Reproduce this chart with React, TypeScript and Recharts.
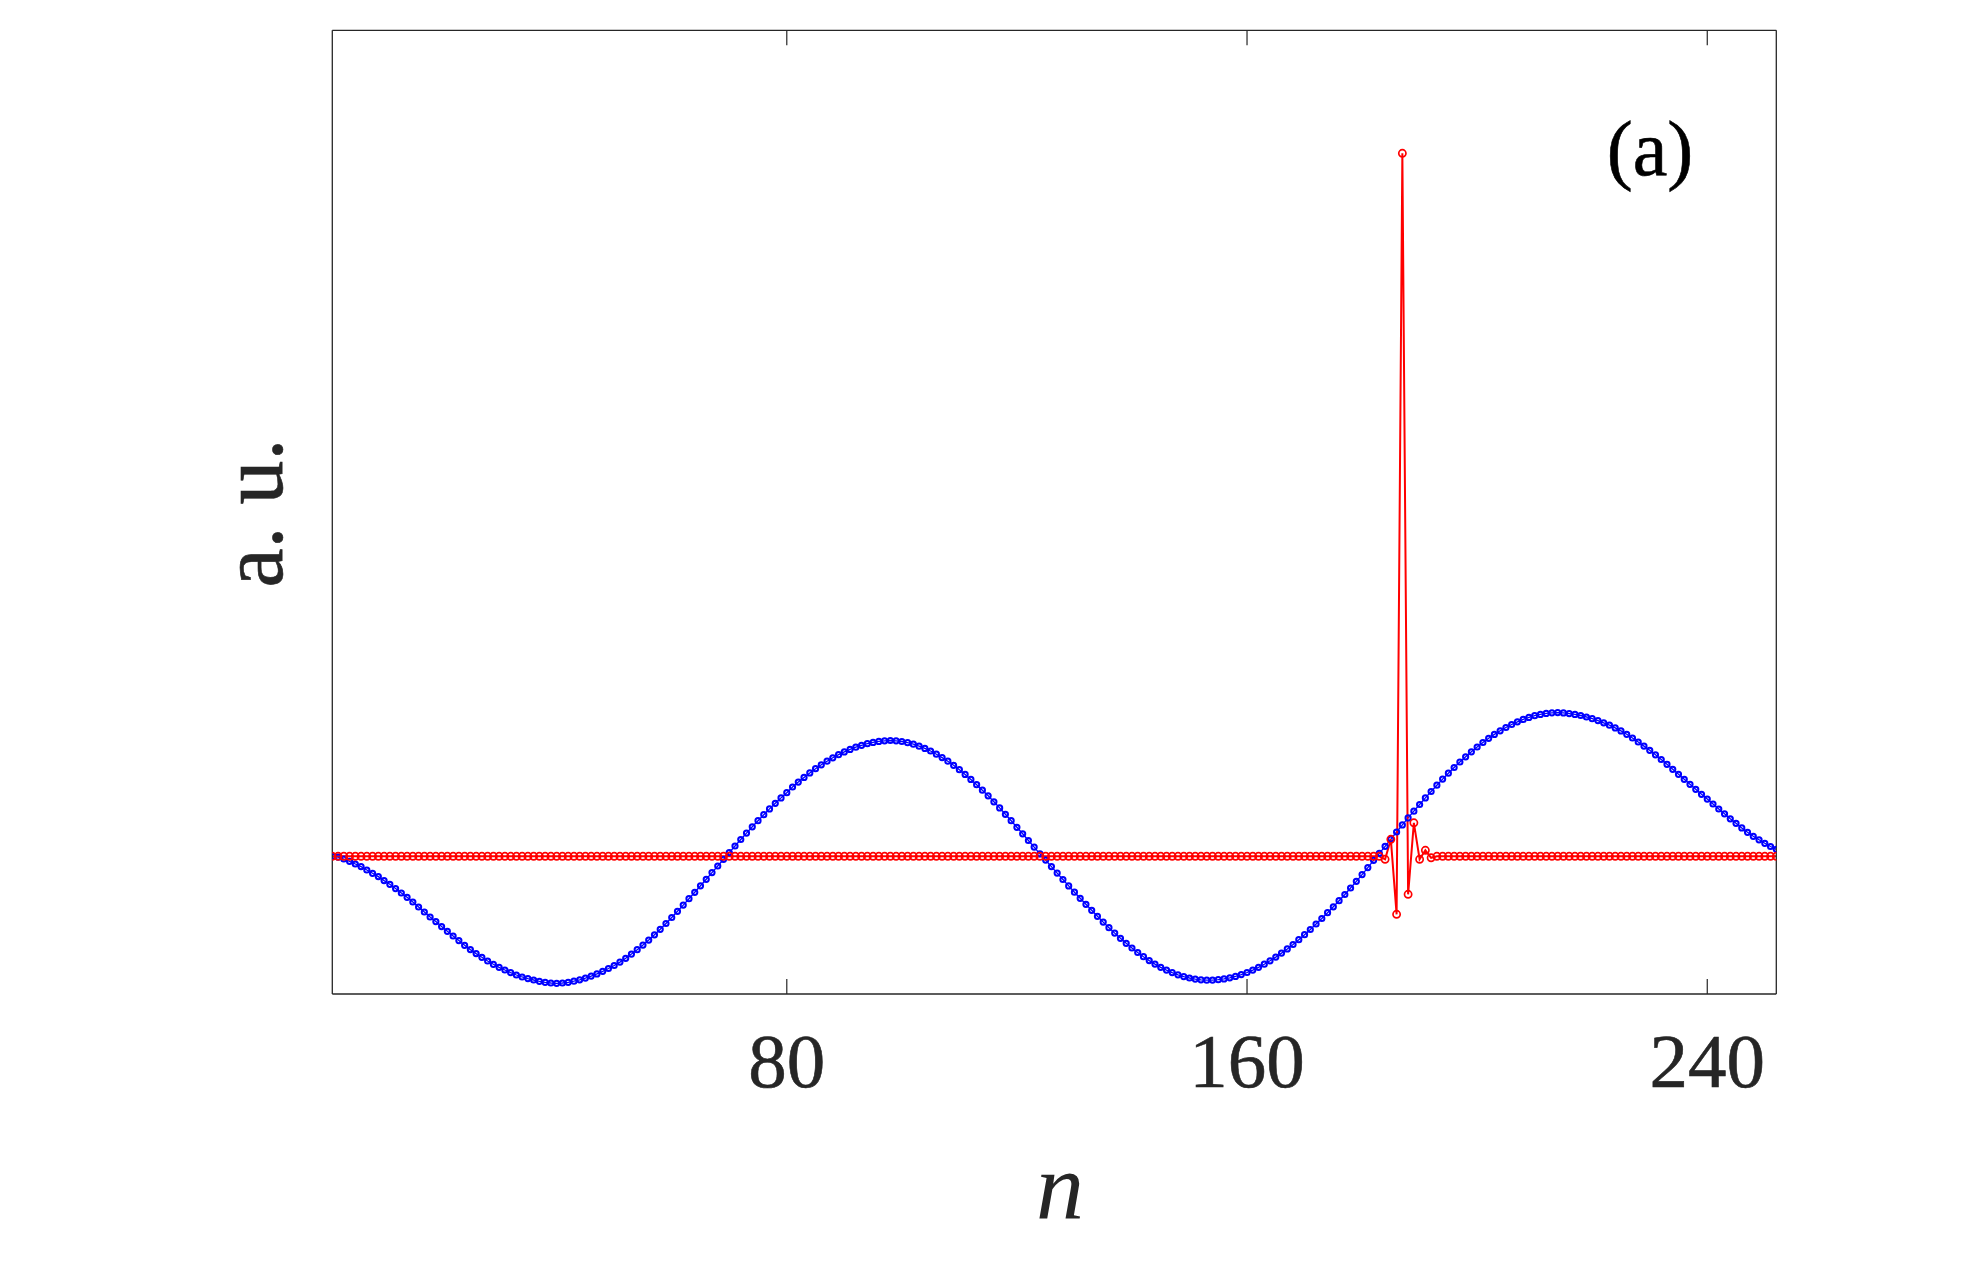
import React from 'react';
import { LineChart, Line, XAxis, YAxis } from 'recharts';

// site index n = 1 .. 252
const nValues: number[] = Array.from({ length: 252 }, (_, i) => i + 1);

// blue series (a. u.), one value per site
const blueValues: number[] = [
  0.0, -0.008, -0.027, -0.05, -0.077, -0.103, -0.137, -0.17, -0.203, -0.243,
  -0.28, -0.323, -0.367, -0.41, -0.457, -0.507, -0.557, -0.607, -0.653, -0.703,
  -0.75, -0.797, -0.843, -0.89, -0.933, -0.973, -1.01, -1.047, -1.08, -1.11,
  -1.137, -1.163, -1.187, -1.207, -1.223, -1.237, -1.25, -1.26, -1.267, -1.27,
  -1.267, -1.26, -1.249, -1.235, -1.218, -1.198, -1.176, -1.15, -1.122, -1.092,
  -1.058, -1.02, -0.978, -0.934, -0.888, -0.838, -0.785, -0.73, -0.672, -0.612,
  -0.55, -0.488, -0.424, -0.36, -0.295, -0.23, -0.163, -0.097, -0.03, 0.037,
  0.103, 0.168, 0.232, 0.295, 0.356, 0.416, 0.474, 0.53, 0.584, 0.636,
  0.693, 0.742, 0.789, 0.834, 0.876, 0.915, 0.951, 0.985, 1.016, 1.044,
  1.069, 1.091, 1.11, 1.126, 1.139, 1.149, 1.155, 1.158, 1.155, 1.148,
  1.136, 1.121, 1.101, 1.079, 1.053, 1.021, 0.987, 0.951, 0.91, 0.866,
  0.819, 0.769, 0.716, 0.661, 0.605, 0.545, 0.484, 0.42, 0.356, 0.29,
  0.225, 0.158, 0.092, 0.025, -0.038, -0.103, -0.168, -0.232, -0.296, -0.359,
  -0.42, -0.48, -0.54, -0.6, -0.658, -0.714, -0.768, -0.82, -0.87, -0.917,
  -0.962, -1.004, -1.043, -1.078, -1.11, -1.138, -1.163, -1.185, -1.203, -1.217,
  -1.228, -1.235, -1.239, -1.238, -1.234, -1.226, -1.215, -1.201, -1.183, -1.162,
  -1.138, -1.11, -1.079, -1.045, -1.008, -0.968, -0.926, -0.882, -0.834, -0.784,
  -0.732, -0.677, -0.622, -0.564, -0.505, -0.444, -0.382, -0.317, -0.25, -0.183,
  -0.113, -0.04, 0.03, 0.1, 0.172, 0.243, 0.314, 0.384, 0.451, 0.518,
  0.584, 0.648, 0.711, 0.772, 0.831, 0.888, 0.943, 0.995, 1.045, 1.093,
  1.138, 1.18, 1.219, 1.255, 1.288, 1.318, 1.345, 1.369, 1.389, 1.406,
  1.419, 1.429, 1.435, 1.437, 1.434, 1.427, 1.419, 1.408, 1.393, 1.376,
  1.357, 1.335, 1.311, 1.284, 1.254, 1.22, 1.183, 1.143, 1.102, 1.06,
  1.015, 0.968, 0.92, 0.87, 0.82, 0.77, 0.72, 0.67, 0.62, 0.572,
  0.523, 0.473, 0.425, 0.375, 0.33, 0.284, 0.24, 0.2, 0.165, 0.13,
  0.098, 0.07,
];

// red series (a. u.), one value per site
const redValues: number[] = [
  0, 0, 0, 0, 0, 0, 0, 0, 0, 0, 0, 0, 0, 0, 0, 0, 0, 0, 0, 0, 0,
  0, 0, 0, 0, 0, 0, 0, 0, 0, 0, 0, 0, 0, 0, 0, 0, 0, 0, 0, 0, 0,
  0, 0, 0, 0, 0, 0, 0, 0, 0, 0, 0, 0, 0, 0, 0, 0, 0, 0, 0, 0, 0,
  0, 0, 0, 0, 0, 0, 0, 0, 0, 0, 0, 0, 0, 0, 0, 0, 0, 0, 0, 0, 0,
  0, 0, 0, 0, 0, 0, 0, 0, 0, 0, 0, 0, 0, 0, 0, 0, 0, 0, 0, 0, 0,
  0, 0, 0, 0, 0, 0, 0, 0, 0, 0, 0, 0, 0, 0, 0, 0, 0, 0, 0, 0, 0,
  0, 0, 0, 0, 0, 0, 0, 0, 0, 0, 0, 0, 0, 0, 0, 0, 0, 0, 0, 0, 0,
  0, 0, 0, 0, 0, 0, 0, 0, 0, 0, 0, 0, 0, 0, 0, 0, 0, 0, 0, 0, 0,
  0, 0, 0, 0, 0, 0, 0, 0, 0, 0, 0, 0, 0, 0, 0, -0.03, 0.17, -0.58, 7.03, -0.38, 0.335,
  -0.03, 0.06, -0.015, 0, 0, 0, 0, 0, 0, 0, 0, 0, 0, 0, 0, 0, 0, 0, 0, 0, 0,
  0, 0, 0, 0, 0, 0, 0, 0, 0, 0, 0, 0, 0, 0, 0, 0, 0, 0, 0, 0, 0,
  0, 0, 0, 0, 0, 0, 0, 0, 0, 0, 0, 0, 0, 0, 0, 0, 0, 0, 0, 0, 0,
];

const xTicks: number[] = [80, 160, 240];
const xDomain: [number, number] = [1, 252];
const yDomain: [number, number] = [-1.377, 8.26];

const data = nValues.map((n, i) => ({ n, blue: blueValues[i], red: redValues[i] }));

const AXIS = '#262626';
const FONT = '"Liberation Serif", "Times New Roman", serif';

const BottomTick = (props: any) => {
  const { x, y, payload } = props;
  return (
    <g>
      <line x1={x} x2={x} y1={y} y2={y - 15} stroke={AXIS} strokeWidth={1.2} />
      <text
        x={x}
        y={y + 93}
        textAnchor="middle"
        fontFamily={FONT}
        fontSize={77}
        fill={AXIS}
        stroke={AXIS}
        strokeWidth={0.6}
      >
        {payload.value}
      </text>
    </g>
  );
};

const TopTick = (props: any) => {
  const { x, y } = props;
  return <line x1={x} x2={x} y1={y} y2={y + 15} stroke={AXIS} strokeWidth={1.2} />;
};

export default function App() {
  return (
    <div style={{ position: 'absolute', left: 0, top: 0, width: 1964, height: 1280, background: '#fff' }}>
      <LineChart
        width={1964}
        height={1280}
        data={data}
        margin={{ top: 29.3, right: 186.7, bottom: 186, left: 331.3 }}
      >
        <XAxis
          dataKey="n"
          type="number"
          domain={xDomain}
          ticks={xTicks}
          interval={0}
          height={100}
          tickSize={0}
          tickMargin={0}
          tickLine={false}
          axisLine={{ stroke: AXIS, strokeWidth: 1.3 }}
          tick={<BottomTick />}
          allowDataOverflow
        />
        <XAxis
          xAxisId="top"
          orientation="top"
          dataKey="n"
          type="number"
          domain={xDomain}
          ticks={xTicks}
          interval={0}
          height={1}
          tickSize={0}
          tickMargin={0}
          tickLine={false}
          axisLine={{ stroke: AXIS, strokeWidth: 1.3 }}
          tick={<TopTick />}
          allowDataOverflow
        />
        <YAxis
          type="number"
          domain={yDomain}
          width={1}
          tick={false}
          tickLine={false}
          axisLine={{ stroke: AXIS, strokeWidth: 1.3 }}
          allowDataOverflow
        />
        <YAxis
          yAxisId="right"
          orientation="right"
          type="number"
          domain={yDomain}
          width={1}
          tick={false}
          tickLine={false}
          axisLine={{ stroke: AXIS, strokeWidth: 1.3 }}
          allowDataOverflow
        />
        <Line
          dataKey="blue"
          type="linear"
          stroke="#0000ff"
          strokeWidth={1.3}
          dot={{ r: 2.6, stroke: '#0000ff', strokeWidth: 2, fill: 'none' }}
          activeDot={false}
          isAnimationActive={false}
        />
        <Line
          dataKey="red"
          type="linear"
          stroke="#ff0000"
          strokeWidth={2}
          dot={{ r: 3.6, stroke: '#ff0000', strokeWidth: 1.7, fill: 'none' }}
          activeDot={false}
          isAnimationActive={false}
        />
      </LineChart>
      <svg
        width={1964}
        height={1280}
        style={{ position: 'absolute', left: 0, top: 0, pointerEvents: 'none' }}
      >
        <text x={1650} y={175} textAnchor="middle" fontFamily={FONT} fontSize={78} fill="#000" stroke="#000" strokeWidth={0.6}>
          (a)
        </text>
        <text
          x={282}
          y={513}
          textAnchor="middle"
          fontFamily={FONT}
          fontSize={88}
          fill={AXIS}
          stroke={AXIS}
          strokeWidth={0.6}
          transform="rotate(-90 282 513)"
        >
          a. u.
        </text>
        <text x={1060} y={1219} textAnchor="middle" fontFamily={FONT} fontStyle="italic" fontSize={96} fill={AXIS}>
          n
        </text>
      </svg>
    </div>
  );
}
